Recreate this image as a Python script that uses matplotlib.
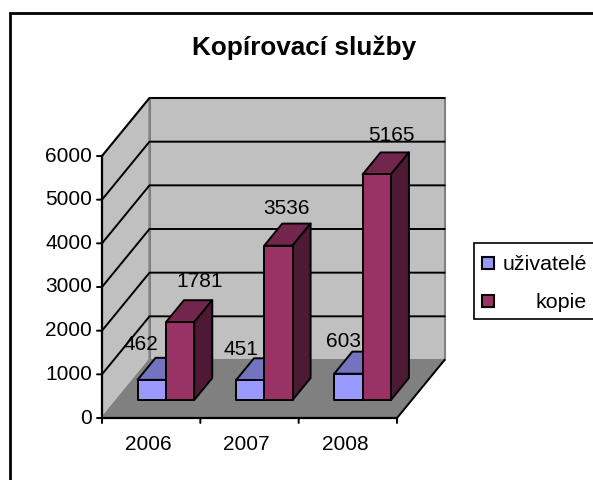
import matplotlib
matplotlib.use("Agg")
import matplotlib.pyplot as plt
from matplotlib.patches import Polygon, Rectangle

plt.rcParams["font.family"] = ["Liberation Sans", "DejaVu Sans"]

years = ["2006", "2007", "2008"]
uzivatele = [462, 451, 603]
kopie = [1781, 3536, 5165]
y_ticks = [0, 1000, 2000, 3000, 4000, 5000, 6000]

# hand placed labels, in pixels from the top front centre of each bar
uzivatele_offsets = [(-11, 35), (-9, 31), (-5, 32)]
kopie_offsets = [(20, 41), (8, 37), (15, 39)]

W, H = 593, 480
LEFT, RIGHT, TOP, BOTTOM = 102, 397, 156, 418
DEPTH_X_PX, DEPTH_Y_PX = 47.5, 58
YMAX = 6000

px_x = (RIGHT - LEFT) / len(years)
px_y = (BOTTOM - TOP) / YMAX
depth_x = DEPTH_X_PX / px_x
depth_y = DEPTH_Y_PX / px_y


def proj(x, y, d=0.0):
    # category, value and depth (0 front, 1 back) to the front plane coords
    return (x + d * depth_x, y + d * depth_y)


def face(ax, points, color, edge="black", lw=1.4, z=2):
    ax.add_patch(Polygon(points, closed=True, facecolor=color, edgecolor=edge,
                         linewidth=lw, joinstyle="round", clip_on=False, zorder=z))


def draw_bar(ax, x0, x1, value, front, top, side, d0=0.31, d1=0.69):
    face(ax, [proj(x0, value, d0), proj(x0, value, d1), proj(x1, value, d1), proj(x1, value, d0)], top)
    face(ax, [proj(x1, 0, d0), proj(x1, 0, d1), proj(x1, value, d1), proj(x1, value, d0)], side)
    face(ax, [proj(x0, 0, d0), proj(x1, 0, d0), proj(x1, value, d0), proj(x0, value, d0)], front)


fig = plt.figure(figsize=(W / 100, H / 100), dpi=100)
fig.patch.set_facecolor("white")

# chart frame runs off the right and bottom of the picture
fig.add_artist(Rectangle((10 / W, -0.02), 1.02, 1.02 - 13 / H,
                         transform=fig.transFigure, facecolor="white",
                         edgecolor="black", linewidth=2, zorder=-1))

ax = fig.add_axes([LEFT / W, 1 - BOTTOM / H, (RIGHT - LEFT) / W, (BOTTOM - TOP) / H])
ax.set_xlim(0, len(years))
ax.set_ylim(0, YMAX)
ax.axis("off")

n = len(years)
wall = "#C0C0C0"
floor = "#808080"
# side wall, back wall, floor
face(ax, [proj(0, 0), proj(0, 0, 1), proj(0, YMAX, 1), proj(0, YMAX)], wall, edge=floor, lw=1.5, z=1)
face(ax, [proj(0, 0, 1), proj(n, 0, 1), proj(n, YMAX, 1), proj(0, YMAX, 1)], wall, edge=floor, lw=1.5, z=1)
face(ax, [proj(0, 0), proj(n, 0), proj(n, 0, 1), proj(0, 0, 1)], floor, edge=floor, lw=1, z=1)

for t in y_ticks[1:]:
    ax.plot(*zip(proj(0, t), proj(0, t, 1), proj(n, t, 1)), color="black", lw=1.4,
            clip_on=False, zorder=1.5)

# front axes and floor edge
ax.plot(*zip(proj(0, 0), proj(0, YMAX)), color="black", lw=1.6, clip_on=False, zorder=3)
ax.plot(*zip(proj(0, 0), proj(n, 0)), color="black", lw=1.6, clip_on=False, zorder=3)
ax.plot(*zip(proj(n, 0), proj(n, 0, 1)), color="black", lw=1.4, clip_on=False, zorder=1.5)

for t in y_ticks:
    ax.annotate("", xy=(0, t), xytext=(-5, 0), textcoords="offset pixels",
                arrowprops=dict(arrowstyle="-", color="black", lw=1.4, shrinkA=0, shrinkB=0))
    ax.annotate(str(t), xy=(0, t), xytext=(-10, 0), textcoords="offset pixels",
                ha="right", va="center", fontsize=15, color="black", annotation_clip=False)
for i in range(n + 1):
    ax.annotate("", xy=(i, 0), xytext=(0, -5), textcoords="offset pixels",
                arrowprops=dict(arrowstyle="-", color="black", lw=1.4, shrinkA=0, shrinkB=0))
for i, year in enumerate(years):
    ax.annotate(year, xy=(i + 0.5, 0), xytext=(-3, -27), textcoords="offset pixels",
                ha="center", va="center", fontsize=15, color="black", annotation_clip=False)

bar_w = 0.288
start = 0.5 - bar_w
for i in range(n):
    draw_bar(ax, i + start, i + start + bar_w, uzivatele[i], "#9999FF", "#7373BF", "#4D4D80")
    draw_bar(ax, i + start + bar_w, i + start + 2 * bar_w, kopie[i], "#993366", "#73264D", "#4D1933")

for i in range(n):
    for value, off, xc in ((uzivatele[i], uzivatele_offsets[i], i + start + bar_w / 2),
                           (kopie[i], kopie_offsets[i], i + start + 1.5 * bar_w)):
        ax.annotate(str(value), xy=proj(xc, value, 0.31), xytext=off, textcoords="offset pixels",
                    ha="center", va="center", fontsize=15, color="black",
                    annotation_clip=False, zorder=5)

fig.text(304.5 / W, 1 - 48 / H, "Kopírovací služby", ha="center", va="center",
         fontsize=18.8, fontweight="bold", color="black")

# legend drawn by hand, its box is cut by the picture edge
fig.add_artist(Rectangle((474 / W, 1 - 319 / H), 130 / W, 76 / H, transform=fig.transFigure,
                         facecolor="white", edgecolor="black", linewidth=1.2))
fig.add_artist(Rectangle((482 / W, 1 - 269 / H), 12 / W, 12 / H, transform=fig.transFigure,
                         facecolor="#9999FF", edgecolor="black", linewidth=1.5))
fig.add_artist(Rectangle((482 / W, 1 - 307 / H), 12 / W, 12 / H, transform=fig.transFigure,
                         facecolor="#993366", edgecolor="black", linewidth=1.5))
fig.text(587 / W, 1 - 265 / H, "uživatelé", ha="right", va="center", fontsize=15.4, color="black")
fig.text(587 / W, 1 - 303 / H, "kopie", ha="right", va="center", fontsize=15.4, color="black")

fig.savefig("out.png", dpi=100)
